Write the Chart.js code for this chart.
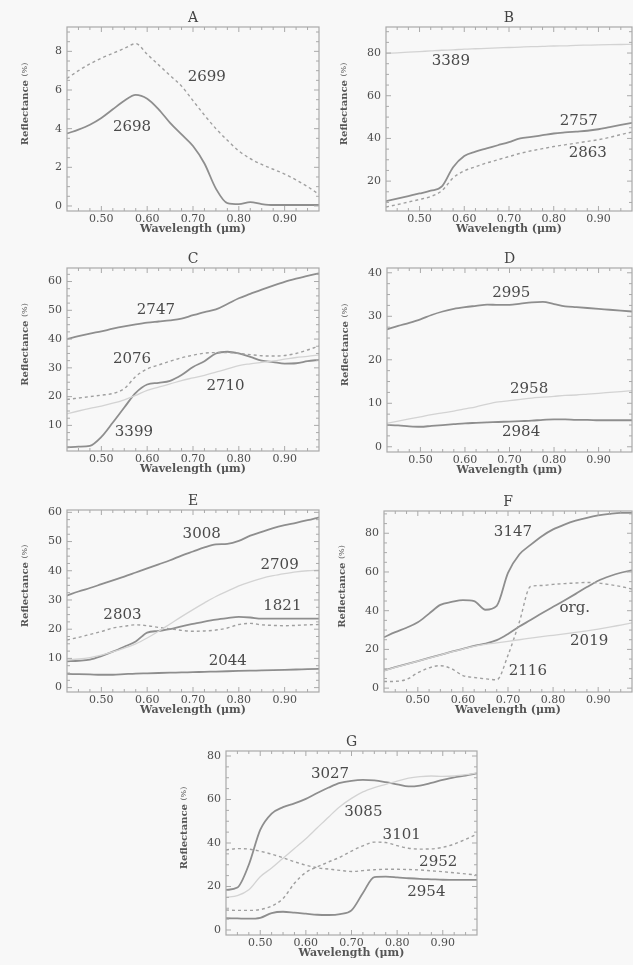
<!DOCTYPE html>
<html>
<head>
<meta charset="utf-8">
<script src="https://cdn.jsdelivr.net/npm/chart.js@4.4.1/dist/chart.umd.min.js"></script>
<style>
  html, body { margin: 0; padding: 0; background: #f8f8f8; }
  body { width: 633px; height: 965px; position: relative; overflow: hidden; }
  canvas { position: absolute; }
</style>
</head>
<body>
<script>
// wavelength grid (um) shared by every spectrum
const wavelengths = [0.425, 0.45, 0.475, 0.50, 0.525, 0.55, 0.575, 0.60, 0.625, 0.65, 0.675, 0.70,
  0.725, 0.75, 0.775, 0.80, 0.825, 0.85, 0.875, 0.90, 0.925, 0.95, 0.975]
const xTicks = [0.50, 0.60, 0.70, 0.80, 0.90]

// A
const aTicks = [0, 2, 4, 6, 8]
const a2699 = [6.6, 7.0, 7.35, 7.65, 7.9, 8.15, 8.4, 7.85, 7.3, 6.75, 6.2, 5.45, 4.7, 4.0, 3.4, 2.85, 2.45, 2.15, 1.9, 1.65, 1.35, 1.0, 0.6]
const a2698 = [3.75, 3.95, 4.2, 4.55, 5.0, 5.45, 5.75, 5.55, 5.0, 4.3, 3.7, 3.1, 2.2, 0.9, 0.15, 0.1, 0.2, 0.1, 0.05, 0.05, 0.05, 0.05, 0.05]

// B
const bTicks = [20, 40, 60, 80]
const b3389 = [79.8, 80.1, 80.4, 80.7, 81.0, 81.3, 81.5, 81.8, 82.0, 82.2, 82.4, 82.6, 82.8, 83.0, 83.1, 83.3, 83.4, 83.6, 83.7, 83.8, 83.9, 84.0, 84.1]
const b2757 = [10.6, 11.8, 13.0, 14.2, 15.5, 17.5, 26.5, 31.8, 33.8, 35.3, 36.8, 38.3, 40.0, 40.7, 41.5, 42.3, 42.8, 43.2, 43.6, 44.3, 45.3, 46.3, 47.3]
const b2863 = [7.9, 9.0, 10.2, 11.4, 12.8, 15.5, 21.5, 24.8, 26.7, 28.5, 30.0, 31.5, 33.0, 34.2, 35.2, 36.2, 37.0, 37.8, 38.6, 39.4, 40.5, 41.8, 43.0]

// C
const cTicks = [10, 20, 30, 40, 50, 60]
const c2747 = [40.0, 41.0, 41.9, 42.7, 43.6, 44.4, 45.1, 45.7, 46.1, 46.5, 47.1, 48.3, 49.4, 50.3, 52.2, 54.2, 55.7, 57.2, 58.6, 59.9, 61.0, 62.0, 62.8]
const c2076 = [19.0, 19.5, 20.0, 20.5, 21.1, 22.8, 27.0, 29.6, 31.0, 32.3, 33.5, 34.4, 35.1, 35.3, 35.3, 35.0, 34.6, 34.2, 34.1, 34.3, 35.0, 36.2, 37.6]
const c2710 = [14.0, 15.0, 15.9, 16.7, 17.7, 18.9, 20.4, 22.2, 23.3, 24.4, 25.6, 26.5, 27.4, 28.5, 29.6, 30.8, 31.4, 31.9, 32.4, 33.0, 33.6, 34.0, 34.5]
const c3399 = [2.4, 2.6, 2.9, 6.0, 11.0, 16.2, 21.3, 24.2, 24.8, 25.5, 27.5, 30.3, 32.3, 35.0, 35.6, 35.0, 33.8, 32.5, 32.0, 31.5, 31.6, 32.3, 32.8]

// D
const dTicks = [0, 10, 20, 30, 40]
const d2995 = [27.0, 27.8, 28.5, 29.3, 30.3, 31.1, 31.7, 32.1, 32.4, 32.7, 32.6, 32.6, 32.9, 33.2, 33.3, 32.8, 32.3, 32.1, 31.9, 31.7, 31.5, 31.3, 31.1]
const d2958 = [5.4, 5.9, 6.4, 6.9, 7.4, 7.8, 8.2, 8.7, 9.2, 9.8, 10.3, 10.6, 10.9, 11.2, 11.4, 11.6, 11.8, 11.9, 12.1, 12.3, 12.5, 12.7, 12.9]
const d2984 = [5.0, 4.9, 4.7, 4.6, 4.8, 5.0, 5.2, 5.4, 5.5, 5.6, 5.7, 5.8, 5.9, 6.0, 6.2, 6.3, 6.3, 6.2, 6.2, 6.1, 6.1, 6.1, 6.1]

// E
const eTicks = [0, 10, 20, 30, 40, 50, 60]
const e3008 = [31.5, 32.9, 34.1, 35.4, 36.7, 38.0, 39.4, 40.8, 42.2, 43.6, 45.2, 46.6, 48.0, 49.0, 49.2, 50.2, 52.0, 53.3, 54.6, 55.6, 56.4, 57.3, 58.3]
const e2709 = [9.5, 9.8, 10.3, 11.1, 12.2, 13.5, 15.0, 17.0, 19.3, 21.8, 24.3, 26.7, 29.0, 31.2, 33.0, 34.8, 36.2, 37.4, 38.3, 39.0, 39.6, 40.0, 40.2]
const e1821 = [9.0, 9.2, 9.6, 10.8, 12.3, 14.0, 15.8, 18.8, 19.4, 20.0, 21.0, 21.8, 22.6, 23.3, 23.8, 24.2, 24.0, 23.6, 23.6, 23.6, 23.6, 23.6, 23.6]
const e2803 = [16.3, 17.2, 18.2, 19.2, 20.4, 21.0, 21.5, 21.2, 20.6, 20.1, 19.6, 19.3, 19.4, 19.7, 20.4, 21.6, 22.0, 21.5, 21.3, 21.2, 21.3, 21.5, 21.6]
const e2044 = [4.7, 4.6, 4.5, 4.4, 4.4, 4.6, 4.8, 4.9, 5.0, 5.1, 5.2, 5.3, 5.4, 5.5, 5.6, 5.7, 5.8, 5.9, 6.0, 6.1, 6.2, 6.3, 6.4]

// F
const fTicks = [0, 20, 40, 60, 80]
const f3147 = [26.3, 28.9, 31.2, 34.0, 38.5, 43.0, 44.5, 45.5, 45.0, 40.5, 42.5, 59.5, 69.0, 74.0, 78.5, 82.0, 84.5, 86.5, 88.0, 89.2, 90.0, 90.5, 90.5]
const fOrg = [9.1, 10.8, 12.4, 14.0, 15.6, 17.2, 18.8, 20.3, 21.8, 23.0, 24.8, 28.0, 31.8, 35.2, 38.7, 42.0, 45.3, 48.7, 52.2, 55.5, 57.8, 59.6, 60.8]
const f2019 = [9.0, 10.7, 12.3, 13.9, 15.5, 17.1, 18.7, 20.2, 21.6, 22.6, 23.4, 24.2, 25.0, 25.8, 26.6, 27.3, 28.0, 28.8, 29.6, 30.5, 31.5, 32.6, 33.7]
const f2116 = [3.4, 3.5, 4.5, 7.9, 10.5, 11.6, 10.0, 6.5, 5.5, 4.8, 4.3, 17.0, 34.0, 52.5, 53.0, 53.6, 54.0, 54.3, 54.6, 54.3, 53.5, 52.5, 51.2]

// G
const gTicks = [0, 20, 40, 60, 80]
const g3027 = [18.4, 19.5, 30.0, 46.0, 53.5, 56.5, 58.2, 60.3, 63.0, 65.5, 67.6, 68.6, 69.0, 68.8, 68.0, 67.0, 66.0, 66.4, 67.6, 69.0, 70.2, 71.0, 72.0]
const g3085 = [15.0, 15.8, 18.5, 24.5, 28.5, 33.0, 37.5, 42.0, 47.0, 52.0, 56.8, 60.5, 63.5, 65.5, 67.0, 68.5, 69.8, 70.5, 70.8, 70.6, 70.8, 71.4, 72.2]
const g3101 = [9.2, 9.0, 9.0, 9.4, 11.0, 14.5, 21.5, 26.5, 29.0, 31.3, 33.5, 36.3, 38.7, 40.4, 40.2, 38.8, 37.6, 37.2, 37.3, 38.0, 39.5, 41.7, 44.1]
const g2952 = [36.8, 37.4, 37.2, 36.2, 34.9, 33.2, 31.4, 29.8, 28.6, 28.0, 27.4, 26.9, 27.3, 27.7, 27.9, 27.9, 27.8, 27.6, 27.2, 26.8, 26.3, 25.8, 25.3]
const g2954 = [5.4, 5.3, 5.2, 5.6, 7.8, 8.4, 8.0, 7.5, 7.0, 6.9, 7.3, 9.0, 17.0, 24.3, 24.5, 24.2, 23.8, 23.5, 23.3, 23.1, 23.0, 23.0, 23.0]

const SERIF = '"DejaVu Serif", "Liberation Serif", serif'
const YW = 52   // room for y tick labels + title
const TH = 22   // room for panel letter
const XH = 26   // room for x tick labels + title

const lineStyle = {
  solid: { borderColor: '#8e8e8e', borderWidth: 1.8 },
  light: { borderColor: '#d3d3d3', borderWidth: 1.3 },
  dash: { borderColor: '#a0a0a0', borderWidth: 1.4, borderDash: [3, 3] }
}

const panels = [
  { letter: 'A', box: [67, 27, 319, 211], yMin: -0.26, yMax: 9.26, yTicks: aTicks,
    series: [{ data: a2699, kind: 'dash' }, { data: a2698, kind: 'solid' }],
    labels: [{ text: '2699', x: 0.73, y: 6.67 }, { text: '2698', x: 0.567, y: 4.1 }] },
  { letter: 'B', box: [386, 27, 632, 211], yMin: 6, yMax: 92.2, yTicks: bTicks,
    series: [{ data: b3389, kind: 'light' }, { data: b2863, kind: 'dash' }, { data: b2757, kind: 'solid' }],
    labels: [{ text: '3389', x: 0.57, y: 76 }, { text: '2757', x: 0.856, y: 48.2 }, { text: '2863', x: 0.876, y: 32.9 }] },
  { letter: 'C', box: [67, 268, 319, 451], yMin: 1.1, yMax: 64.7, yTicks: cTicks,
    series: [{ data: c2710, kind: 'light' }, { data: c2076, kind: 'dash' }, { data: c2747, kind: 'solid' }, { data: c3399, kind: 'solid' }],
    labels: [{ text: '2747', x: 0.619, y: 50.1 }, { text: '2076', x: 0.567, y: 33 }, { text: '2710', x: 0.771, y: 23.8 }, { text: '3399', x: 0.571, y: 7.5 }] },
  { letter: 'D', box: [387, 268, 632, 452], yMin: -1.2, yMax: 41.1, yTicks: dTicks,
    series: [{ data: d2958, kind: 'light' }, { data: d2995, kind: 'solid' }, { data: d2984, kind: 'solid' }],
    labels: [{ text: '2995', x: 0.704, y: 35.4 }, { text: '2958', x: 0.744, y: 13.2 }, { text: '2984', x: 0.726, y: 3.4 }] },
  { letter: 'E', box: [67, 510, 319, 692], yMin: -1.5, yMax: 60.8, yTicks: eTicks,
    series: [{ data: e2709, kind: 'light' }, { data: e2803, kind: 'dash' }, { data: e3008, kind: 'solid' }, { data: e1821, kind: 'solid' }, { data: e2044, kind: 'solid' }],
    labels: [{ text: '3008', x: 0.719, y: 52.6 }, { text: '2709', x: 0.889, y: 41.8 }, { text: '1821', x: 0.895, y: 27.9 }, { text: '2803', x: 0.546, y: 24.7 }, { text: '2044', x: 0.776, y: 9.2 }] },
  { letter: 'F', box: [384, 511, 632, 692], yMin: -2, yMax: 91.5, yTicks: fTicks,
    series: [{ data: f2019, kind: 'light' }, { data: f2116, kind: 'dash' }, { data: f3147, kind: 'solid' }, { data: fOrg, kind: 'solid' }],
    labels: [{ text: '3147', x: 0.711, y: 80.5 }, { text: 'org.', x: 0.848, y: 41.3 }, { text: '2019', x: 0.88, y: 24.1 }, { text: '2116', x: 0.744, y: 8.6 }] },
  { letter: 'G', box: [226, 751, 477, 935], yMin: -2.3, yMax: 82.3, yTicks: gTicks,
    series: [{ data: g3085, kind: 'light' }, { data: g3101, kind: 'dash' }, { data: g2952, kind: 'dash' }, { data: g3027, kind: 'solid' }, { data: g2954, kind: 'solid' }],
    labels: [{ text: '3027', x: 0.653, y: 71.7 }, { text: '3085', x: 0.726, y: 54.1 }, { text: '3101', x: 0.81, y: 43.7 }, { text: '2952', x: 0.89, y: 31.4 }, { text: '2954', x: 0.864, y: 17.6 }] }
]

// box, inward minor/major ticks, panel letter, axis titles and curve labels
const frame = {
  id: 'frame',
  afterDatasetsDraw(chart, args, opts) {
    const { ctx, chartArea: { left, top, right, bottom }, scales: { x, y } } = chart
    ctx.save()
    ctx.strokeStyle = '#aaaaaa'
    ctx.lineWidth = 1.2
    ctx.strokeRect(left, top, right - left, bottom - top)

    ctx.lineWidth = 1
    const xs = 0.025
    for (let k = Math.ceil(x.min / xs + 1e-6); k <= Math.floor(x.max / xs - 1e-6); k++) {
      const px = x.getPixelForValue(k * xs)
      const len = k % 4 === 0 ? 5 : 3
      ctx.beginPath()
      ctx.moveTo(px, bottom); ctx.lineTo(px, bottom - len)
      ctx.moveTo(px, top); ctx.lineTo(px, top + len)
      ctx.stroke()
    }
    const ys = (opts.yTicks[1] - opts.yTicks[0]) / 4
    for (let k = Math.ceil(y.min / ys + 1e-6); k <= Math.floor(y.max / ys - 1e-6); k++) {
      const py = y.getPixelForValue(k * ys)
      const len = k % 4 === 0 ? 5 : 3
      ctx.beginPath()
      ctx.moveTo(left, py); ctx.lineTo(left + len, py)
      ctx.moveTo(right, py); ctx.lineTo(right - len, py)
      ctx.stroke()
    }

    ctx.fillStyle = '#444'
    ctx.textAlign = 'center'
    ctx.textBaseline = 'middle'
    ctx.font = '14px ' + SERIF
    ctx.fillText(opts.letter, (left + right) / 2, top - 9)

    ctx.font = '15px ' + SERIF
    ctx.fillStyle = '#4a4a4a'
    opts.labels.forEach(l => {
      ctx.fillText(l.text, x.getPixelForValue(l.x), y.getPixelForValue(l.y))
    })

    // x title
    ctx.fillStyle = '#555'
    ctx.font = 'bold 11px ' + SERIF
    ctx.fillText('Wavelength (\u03bcm)', (left + right) / 2, bottom + 18)

    // y title
    ctx.save()
    ctx.translate(left - 42, (top + bottom) / 2 - 15)
    ctx.rotate(-Math.PI / 2)
    ctx.font = 'bold 10px ' + SERIF
    const w1 = ctx.measureText('Reflectance ').width
    ctx.font = '8px ' + SERIF
    const w2 = ctx.measureText('(%)').width
    ctx.textAlign = 'left'
    ctx.font = 'bold 10px ' + SERIF
    ctx.fillText('Reflectance ', -(w1 + w2) / 2, 0)
    ctx.font = '8px ' + SERIF
    ctx.fillText('(%)', -(w1 + w2) / 2 + w1, 0)
    ctx.restore()

    ctx.restore()
  }
}

const tickFont = { family: SERIF, size: 11 }

panels.forEach(p => {
  const [l, t, r, b] = p.box
  const w = r - l + YW + 1
  const h = b - t + TH + XH
  const cv = document.createElement('canvas')
  cv.width = w
  cv.height = h
  cv.style.left = (l - YW) + 'px'
  cv.style.top = (t - TH) + 'px'
  cv.style.width = w + 'px'
  cv.style.height = h + 'px'
  document.body.appendChild(cv)

  new Chart(cv, {
    type: 'line',
    data: {
      datasets: p.series.map(s => Object.assign({
        data: s.data.map((v, i) => ({ x: wavelengths[i], y: v })),
        pointRadius: 0,
        fill: false,
        cubicInterpolationMode: 'monotone'
      }, lineStyle[s.kind]))
    },
    options: {
      responsive: false,
      animation: false,
      devicePixelRatio: 1,
      layout: { padding: { top: TH, right: 1, left: 0, bottom: 0 } },
      plugins: {
        legend: { display: false },
        tooltip: { enabled: false },
        frame: { letter: p.letter, labels: p.labels, yTicks: p.yTicks }
      },
      scales: {
        x: {
          type: 'linear',
          min: 0.425,
          max: 0.975,
          grid: { display: false, drawTicks: false },
          border: { display: false },
          afterBuildTicks: s => { s.ticks = xTicks.map(v => ({ value: v })) },
          afterFit: s => { s.height = XH },
          ticks: { callback: v => v.toFixed(2), padding: 2, font: tickFont, color: '#4d4d4d', maxRotation: 0, autoSkip: false }
        },
        y: {
          min: p.yMin,
          max: p.yMax,
          grid: { display: false, drawTicks: false },
          border: { display: false },
          afterBuildTicks: s => { s.ticks = p.yTicks.map(v => ({ value: v })) },
          afterFit: s => { s.width = YW },
          ticks: { callback: v => String(v), padding: 5, font: tickFont, color: '#4d4d4d' }
        }
      }
    },
    plugins: [frame]
  })
})
</script>
</body>
</html>
